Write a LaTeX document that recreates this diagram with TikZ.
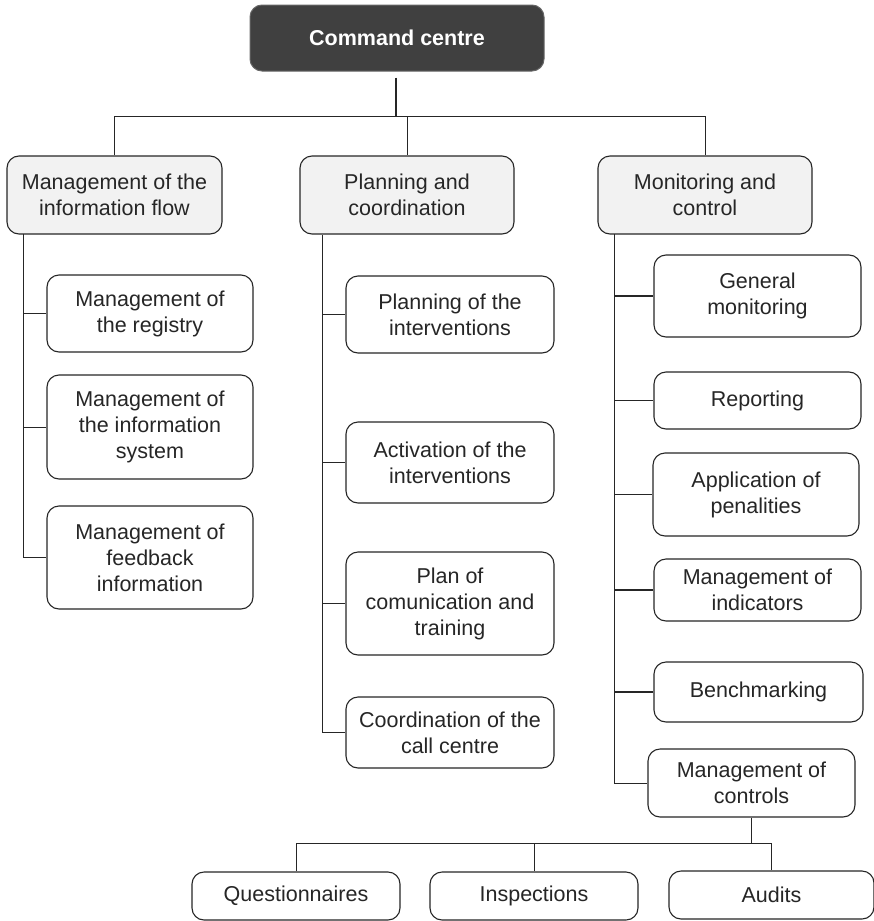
\documentclass[tikz,border=0pt]{standalone}
\usepackage{fontspec}
\setmainfont{Liberation Sans}
\begin{document}
\begin{tikzpicture}[x=1pt,y=-1pt,
  every node/.style={inner sep=0pt, align=center, font=\fontsize{21.5}{26}\selectfont, text=black!85},
  card/.style={draw=black!85, line width=1.1pt, rounded corners=12pt, fill=white},
  topcard/.style={card, fill=black!5},
  headcard/.style={draw=black!60, line width=1pt, rounded corners=12pt, fill=black!75, text=white, font=\fontsize{21.5}{26}\selectfont\bfseries},
  link/.style={draw=black!85, line width=1pt},
  stub/.style={draw=black!85, line width=1.8pt}
]
\useasboundingbox (0,0) rectangle (874,921);

% root
\node[headcard, minimum width=294pt, minimum height=66pt] (cmd) at (397,38) {Command centre};

% first level
\node[topcard, minimum width=215pt, minimum height=78pt] (flow) at (114.5,195) {Management of the\\information flow};
\node[topcard, minimum width=214pt, minimum height=78pt] (plan) at (407,195) {Planning and\\coordination};
\node[topcard, minimum width=214pt, minimum height=78pt] (mon) at (705,195) {Monitoring and\\control};

% information flow branch
\node[card, minimum width=206pt, minimum height=77pt] (reg) at (150,313.5) {Management of\\the registry};
\node[card, minimum width=206pt, minimum height=104pt] (isys) at (150,427) {Management of\\the information\\system};
\node[card, minimum width=206pt, minimum height=103pt] (feed) at (150,557.5) {Management of\\feedback\\information};

% planning branch
\node[card, minimum width=208pt, minimum height=77pt] (pint) at (450,314.5) {Planning of the\\interventions};
\node[card, minimum width=208pt, minimum height=81pt] (act) at (450,462.5) {Activation of the\\interventions};
\node[card, minimum width=208pt, minimum height=103pt] (com) at (450,603.5) {Plan of\\comunication and\\training};
\node[card, minimum width=208pt, minimum height=71pt] (call) at (450,732.5) {Coordination of the\\call centre};

% monitoring branch
\node[card, minimum width=207pt, minimum height=82pt] (gen) at (757.5,296) {General\\monitoring};
\node[card, minimum width=207pt, minimum height=57pt] (rep) at (757.5,400.5) {Reporting};
\node[card, minimum width=206pt, minimum height=83pt] (pen) at (756,494.5) {Application of\\penalities};
\node[card, minimum width=207pt, minimum height=62pt] (ind) at (757.5,590) {Management of\\indicators};
\node[card, minimum width=209pt, minimum height=60pt] (bench) at (758.5,692) {Benchmarking};
\node[card, minimum width=207pt, minimum height=68pt] (ctrl) at (751.5,783) {Management of\\controls};

% controls branch
\node[card, minimum width=208pt, minimum height=48pt] (quest) at (296,896) {Questionnaires};
\node[card, minimum width=208pt, minimum height=48pt] (insp) at (534,896) {Inspections};
\node[card, minimum width=205pt, minimum height=48pt] (aud) at (771.5,895) {Audits};

% junction points
\coordinate (hub) at (396,116);
\coordinate (lcol) at (23,234);
\coordinate (mcol) at (322,235);
\coordinate (rcol) at (614,234);
\coordinate (bhub) at (751.5,843);

% root to first level
\draw[link, line width=1.4pt, shorten <=6pt] (cmd.south -| hub) -- (hub);
\draw[link] (flow.north) -- (flow.north |- hub) -- (mon.north |- hub) -- (mon.north);
\draw[link] (hub) -- (plan.north |- hub) -- (plan.north);

% information flow column
\draw[link] (lcol) -- (lcol |- feed.west) -- (feed.west);
\draw[link] (lcol |- reg.west) -- (reg.west);
\draw[link] (lcol |- isys.west) -- (isys.west);

% planning column
\draw[link] (mcol) -- (mcol |- call.west) -- (call.west);
\draw[stub] (mcol |- pint.west) -- (pint.west);
\draw[stub] (mcol |- act.west) -- (act.west);
\draw[stub] (mcol |- com.west) -- (com.west);

% monitoring column
\draw[link] (rcol) -- (rcol |- ctrl.west) -- (ctrl.west);
\draw[stub] (rcol |- gen.west) -- (gen.west);
\draw[stub] (rcol |- rep.west) -- (rep.west);
\draw[stub] (rcol |- pen.west) -- (pen.west);
\draw[stub] (rcol |- ind.west) -- (ind.west);
\draw[stub] (rcol |- bench.west) -- (bench.west);

% controls fan-out
\draw[link, line width=1.6pt] (ctrl.south) -- (bhub);
\draw[link] (quest.north) -- (quest.north |- bhub) -- (aud.north |- bhub) -- (aud.north);
\draw[link] (insp.north |- bhub) -- (insp.north);
\end{tikzpicture}
\end{document}
